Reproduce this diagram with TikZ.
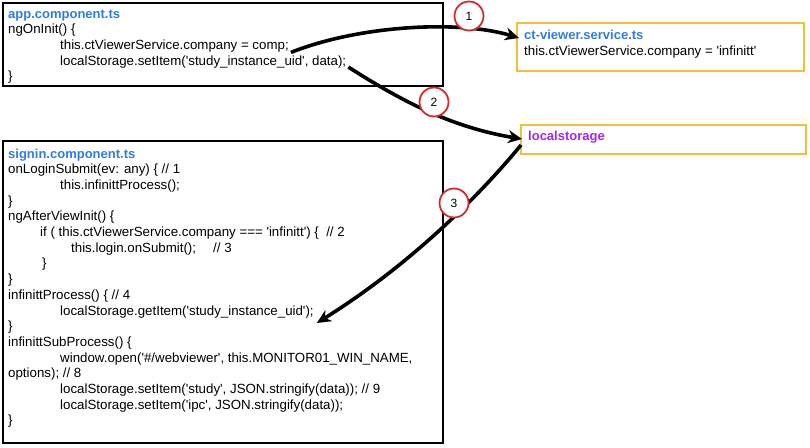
\documentclass[tikz,border=0pt]{standalone}
\usepackage{fontspec}
\setmainfont{Liberation Sans}[Ligatures=TeXOff]
\usetikzlibrary{arrows.meta}
\definecolor{titleblue}{RGB}{45,125,230}
\definecolor{lspurple}{RGB}{160,40,240}
\definecolor{boxyellow}{RGB}{240,192,60}
\definecolor{numred}{RGB}{210,45,45}
\begin{document}
\begin{tikzpicture}[x=1pt,y=-1pt,
  codebox/.style={draw=black,line width=2.2pt},
  filebox/.style={draw=boxyellow,line width=2.2pt},
  code/.style={anchor=base west,inner sep=0pt,font=\fontsize{13.3}{15}\selectfont},
  ftitle/.style={code,font=\fontsize{13}{15}\selectfont\bfseries,text=titleblue},
  flow/.style={line width=3.6pt,-{Stealth[length=14pt,width=13pt]}},
  stepnum/.style={circle,draw=numred,line width=1.8pt,fill=white,minimum size=29pt,inner sep=0pt,font=\fontsize{12}{13}\selectfont}]
\useasboundingbox (0,0) rectangle (810,447);
% boxes
\draw[codebox] (3,3) rectangle (443,86);
\draw[filebox] (517,23) rectangle (804,71);
\draw[filebox] (521,125) rectangle (806,154);
\draw[codebox] (3,141) rectangle (443,443);
\coordinate (ctin) at (519,38);
\coordinate (lsin) at (522,139);
\coordinate (lsout) at (521,145);
% app.component.ts
\node[ftitle] (apptitle) at (8,18) {app.component.ts};
\node[code] (a1) at (8,33.7) {ngOnInit() \{};
\node[code] (a2) at (60,49.4) {this.ctViewerService.company = comp;};
\node[code] (a3) at (60,65.1) {localStorage.setItem('study\_instance\_uid', data);};
\node[code] (a4) at (8,80.8) {\}};
% ct-viewer
\node[ftitle] (cttitle) at (524,39) {ct-viewer.service.ts};
\node[code] (ct1) at (524,55) {this.ctViewerService.company = 'infinitt'};
% localstorage
\node[ftitle,text=lspurple] (lstitle) at (528,140) {localstorage};
% signin.component.ts
\node[ftitle] (sititle) at (8,158) {signin.component.ts};
\node[code] (s1) at (8,173.7) {onLoginSubmit(ev: any) \{ // 1};
\node[code] (s2) at (60,189.4) {this.infinittProcess();};
\node[code] (s3) at (8,205.1) {\}};
\node[code] (s4) at (8,220.8) {ngAfterViewInit() \{};
\node[code] (s5) at (40,236.5) {if ( this.ctViewerService.company === 'infinitt') \{\ \ // 2};
\node[code] (s6) at (71,252.2) {this.login.onSubmit();};
\node[code] (s6b) at (213,252.2) {// 3};
\node[code] (s7) at (42,267.9) {\}};
\node[code] (s8) at (8,283.6) {\}};
\node[code] (s9) at (8,299.3) {infinittProcess() \{ // 4};
\node[code] (s10) at (60,315) {localStorage.getItem('study\_instance\_uid');};
\node[code] (s11) at (8,330.7) {\}};
\node[code] (s12) at (8,346.4) {infinittSubProcess() \{};
\node[code] (s13) at (60,362.1) {window.open('\#/webviewer', this.MONITOR01\_WIN\_NAME,};
\node[code] (s14) at (8,377.8) {options); // 8};
\node[code] (s15) at (60,393.5) {localStorage.setItem('study', JSON.stringify(data)); // 9};
\node[code] (s16) at (60,409.2) {localStorage.setItem('ipc', JSON.stringify(data));};
\node[code] (s17) at (8,424.9) {\}};
% connectors
\draw[flow] ([xshift=2pt,yshift=-3pt]a2.base east) .. controls (360,25) and (460,20) .. (ctin);
\draw[flow] ([xshift=2pt,yshift=-2pt]a3.base east) .. controls (400,100) and (450,127) .. (lsin);
\draw[flow] (lsout) .. controls (480,195) and (410,265) .. ([xshift=3pt,yshift=-8pt]s10.base east);
% step numbers
\node[stepnum] (n1) at (469,16) {1};
\node[stepnum] (n2) at (434,102) {2};
\node[stepnum] (n3) at (454,203) {3};
\end{tikzpicture}
\end{document}
